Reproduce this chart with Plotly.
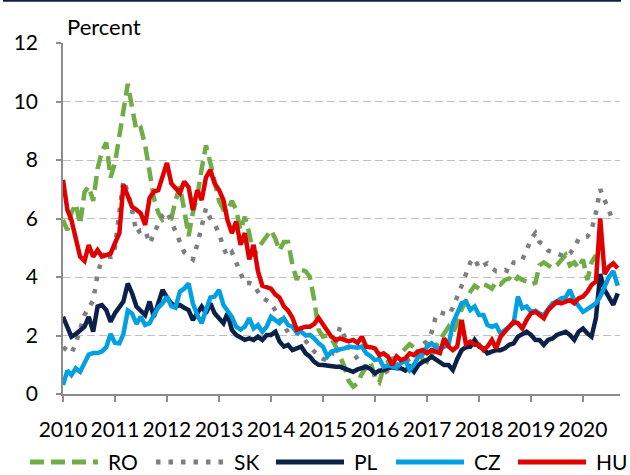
import pandas as pd
import plotly.graph_objects as go

# Monthly readings, percent, starting January 2010
ro = [5.95, 5.6, 6.2, 6.5, 5.8, 6.9, 7.1, 6.6, 7.7, 8.3, 8.6, 7.4,
      7.9, 8.8, 9.7, 10.6, 9.8, 9.0, 9.1, 8.5, 7.6, 6.7, 6.2, 5.95,
      6.0, 6.0, 6.6, 7.1, 6.3, 5.4, 6.2, 6.75, 7.7, 8.5, 7.9, 7.2,
      6.6, 6.3, 6.3, 6.6, 6.3, 5.6, 6.06, 5.5, 4.7, 4.98, 5.2, 5.4,
      5.6, 5.3, 4.9, 5.2, 5.2, 4.4, 3.9, 4.24, 4.2, 4.0, 3.2, 2.2,
      1.96, 2.0, 1.9, 1.62, 1.3, 0.93, 0.45, 0.25, 0.36, 0.7, 0.9, 1.1,
      0.55, 0.4, 0.9, 1.1, 1.2, 1.25, 1.4, 1.55, 1.7, 1.6, 1.4, 1.2,
      1.1, 1.3, 1.62, 1.85, 2.07, 2.3, 2.1, 2.4, 2.9, 3.2, 3.5, 3.7,
      3.6, 3.75, 3.7, 3.6, 3.84, 3.75, 3.9, 3.95, 3.8, 4.0, 3.9, 3.85,
      3.75, 3.8, 4.4, 4.5, 4.4, 4.3, 4.4, 4.6, 4.75, 4.4, 4.5, 4.3,
      4.6, 3.9, 4.5, 4.75]

sk = [1.6, 1.5, 1.39, 1.73, 2.2, 2.7, 2.95, 3.2, 4.1, 4.6, 4.9, 4.65,
      5.0, 6.1, 7.3, 6.9, 6.3, 5.5, 5.6, 5.6, 5.15, 5.44, 5.83, 6.1,
      6.23, 5.9, 5.6, 5.2, 4.85, 4.7, 4.6, 5.1, 5.8, 6.35, 6.0, 5.8,
      5.5, 5.0, 4.7, 4.85, 4.5, 4.1, 3.78, 3.8, 3.75, 3.5, 3.3, 3.2,
      3.1, 2.85, 2.6, 2.35, 2.1, 2.15, 2.1, 2.0, 1.8, 1.6, 1.45, 1.3,
      1.2, 1.15, 1.3, 1.8, 2.3, 1.96, 1.6, 1.4, 1.2, 1.0, 0.9, 0.8,
      0.7, 0.65, 0.7, 0.8, 0.95, 1.0, 1.05, 1.1, 1.2, 1.3, 1.5, 1.7,
      1.8, 2.1, 2.6, 2.8, 2.75, 2.7, 2.95, 3.3, 3.7, 4.1, 4.5, 4.64,
      4.3, 4.4, 4.47, 4.3, 4.2, 4.2, 4.24, 4.18, 4.5, 4.5, 4.6, 4.9,
      5.3, 5.5, 5.2, 5.1, 4.9, 4.85, 4.8, 4.75, 4.7, 4.8, 5.0, 5.3,
      5.36, 5.38, 5.6, 6.2, 7.0, 6.6, 6.3, 5.9]

pl = [2.64, 2.3, 1.96, 2.05, 2.15, 2.3, 2.64, 2.13, 2.99, 3.04, 2.87, 2.47,
      2.76, 2.99, 3.16, 3.78, 3.44, 2.99, 2.87, 2.7, 3.16, 2.64, 3.1, 3.56,
      3.3, 3.1, 2.99, 3.04, 2.95, 2.87, 2.53, 2.75, 2.99, 2.76, 3.1, 2.76,
      2.6, 2.42, 2.76, 2.19, 2.02, 1.95, 1.85, 1.9, 1.85, 1.96, 1.85, 2.02,
      2.02, 2.13, 1.8, 1.62, 1.68, 1.5, 1.55, 1.62, 1.39, 1.28, 1.1, 1.0,
      0.99, 0.96, 0.93, 0.93, 0.93, 0.88, 0.8, 0.76, 0.84, 0.88, 0.93, 0.85,
      0.71, 0.8, 0.82, 0.88, 0.91, 0.88, 0.88, 0.8, 0.93, 0.76, 0.99, 1.1,
      1.16, 1.28, 1.19, 1.05, 0.99, 0.99, 0.82, 1.2, 1.5, 1.6, 1.62, 1.85,
      1.62, 1.56, 1.39, 1.45, 1.5, 1.5, 1.56, 1.68, 1.73, 1.96, 2.07, 2.13,
      2.02, 1.85, 1.85, 1.68, 1.85, 1.9, 2.02, 2.07, 2.13, 2.02, 1.85, 2.13,
      2.24, 2.07, 1.96, 2.6, 4.1, 3.56, 3.33, 3.05, 3.44]

cz = [0.31, 0.8, 0.65, 0.88, 0.76, 1.1, 1.35, 1.4, 1.4, 1.45, 1.6, 2.05,
      1.75, 1.73, 2.05, 2.85, 2.75, 2.4, 2.64, 2.36, 2.42, 2.7, 2.95, 3.1,
      3.33, 3.0, 2.95, 3.5, 3.6, 3.78, 3.1, 2.7, 2.42, 2.87, 3.3, 3.33,
      3.56, 3.04, 2.87, 2.64, 2.3, 2.2, 2.3, 2.59, 2.24, 2.36, 2.13, 2.3,
      2.64, 2.53, 2.42, 2.59, 2.36, 2.3, 2.1, 2.13, 2.0, 2.02, 1.9, 1.73,
      1.62, 1.28, 1.45, 1.5, 1.52, 1.56, 1.62, 1.6, 1.58, 1.62, 1.39, 1.3,
      1.16, 1.2, 0.93, 0.98, 0.95, 0.9, 1.05, 1.16, 0.82, 1.0, 1.28, 1.35,
      1.62, 1.73, 1.62, 1.55, 1.62, 1.68, 2.42, 2.76, 3.1, 3.16, 2.87, 2.99,
      2.7, 2.7, 2.36, 2.3, 2.35, 2.07, 2.19, 2.3, 2.42, 3.33, 2.93, 2.99,
      2.81, 2.85, 2.75, 2.7, 2.87, 3.1, 3.16, 3.27, 3.3, 3.56, 3.2, 2.99,
      2.81, 2.9, 2.99, 3.1, 3.33, 3.67, 4.0, 4.2, 3.7]

hu = [7.32, 6.29, 5.95, 5.3, 4.7, 4.55, 5.09, 4.69, 4.92, 4.7, 4.75, 4.8,
      5.16, 5.5, 7.15, 6.74, 6.4, 6.3, 6.18, 5.78, 6.7, 6.92, 6.97, 7.43,
      7.9, 7.2, 7.04, 6.87, 7.26, 7.07, 6.29, 6.97, 6.63, 7.4, 7.66, 7.2,
      6.97, 6.63, 5.95, 5.5, 5.9, 5.1, 5.5, 4.6, 5.1, 4.2, 3.7, 3.65,
      3.6, 3.4, 3.3, 3.0, 2.85, 2.6, 2.2, 2.25, 2.3, 2.3, 2.4, 2.6,
      2.4, 2.2, 1.96, 1.85, 1.9, 1.85, 1.8, 1.85, 1.75, 1.96, 1.62, 1.6,
      1.56, 1.33, 1.39, 1.28, 0.99, 1.28, 1.16, 1.22, 1.39, 1.33, 1.45, 1.5,
      1.39, 1.5, 1.45, 1.4, 1.9, 1.62, 1.5, 1.62, 2.53, 1.7, 1.79, 1.68,
      1.68, 1.5, 1.62, 1.85, 1.56, 1.96, 2.13, 2.3, 2.47, 2.42, 2.24, 2.53,
      2.76, 2.81, 2.7, 2.59, 2.87, 3.04, 3.16, 3.1, 3.15, 3.21, 3.1, 3.27,
      3.33, 3.5, 3.73, 3.85, 6.0, 4.1, 4.35, 4.47, 4.3]

year_ticks = [str(y) for y in range(2010, 2021)]
y_ticks = [0, 2, 4, 6, 8, 10, 12]

# name, values, colour, dash pattern
series = [
    ("RO", ro, "#70AD47", "14px,7px"),
    ("SK", sk, "#7F7F7F", "4.5px,8px"),
    ("PL", pl, "#0B2149", "solid"),
    ("CZ", cz, "#00A0E2", "solid"),
    ("HU", hu, "#E00000", "solid"),
]
LINE_W = 4.5

FONT = "Lato, 'Open Sans', sans-serif"
W, H = 630, 475
ML, MR, MT, MB = 63, 10, 43, 81
PW, PH = W - ML - MR, H - MT - MB


def px_x(px):
    """pixel column -> paper x"""
    return (px - ML) / PW


def px_y(py):
    """pixel row -> paper y"""
    return (H - MB - py) / PH


fig = go.Figure()
for name, vals, color, dash in series:
    dates = pd.date_range("2010-01-01", periods=len(vals), freq="MS")
    fig.add_trace(go.Scatter(
        x=dates, y=vals, name=name, mode="lines",
        line=dict(color=color, width=LINE_W, dash=dash),
        showlegend=False,
    ))

# Legend row drawn below the axis: sample line + label per series
legend_y = px_y(462)
sample_left = [30, 156, 276, 396, 518]
sample_len = 68
shapes = []
annotations = []
for (name, _, color, dash), x0 in zip(series, sample_left):
    shapes.append(dict(
        type="line", xref="paper", yref="paper",
        x0=px_x(x0), x1=px_x(x0 + sample_len), y0=legend_y, y1=legend_y,
        line=dict(color=color, width=LINE_W + 0.5, dash=dash),
    ))
    annotations.append(dict(
        text=name, xref="paper", yref="paper",
        x=px_x(x0 + sample_len + 8), y=legend_y,
        xanchor="left", yanchor="middle", showarrow=False,
        font=dict(family=FONT, size=21, color="#000000"),
    ))

annotations.append(dict(
    text="Percent", xref="paper", yref="paper",
    x=px_x(65), y=px_y(26.5), xanchor="left", yanchor="middle",
    showarrow=False, font=dict(family=FONT, size=22, color="#000000"),
))

# thin navy rule along the top edge
shapes.append(dict(
    type="line", xref="paper", yref="paper",
    x0=px_x(3), x1=px_x(621), y0=px_y(0.8), y1=px_y(0.8),
    line=dict(color="#0B2149", width=2),
))

fig.update_layout(
    width=W, height=H,
    margin=dict(l=ML, r=MR, t=MT, b=MB),
    paper_bgcolor="white", plot_bgcolor="white",
    font=dict(family=FONT, size=21, color="#000000"),
    showlegend=False,
    xaxis=dict(
        type="date",
        range=["2010-01-01", "2020-09-17"],
        tickvals=[f"{y}-01-01" for y in year_ticks],
        ticktext=year_ticks,
        ticks="outside", ticklen=6, tickwidth=1.5, tickcolor="#8C8C8C",
        showline=True, linecolor="#8C8C8C", linewidth=1.5,
        showgrid=False, zeroline=False,
        ticklabelstandoff=10,
        tickfont=dict(family=FONT, size=21, color="#000000"),
    ),
    yaxis=dict(
        range=[0, 12],
        tickvals=y_ticks,
        ticks="outside", ticklen=5, tickwidth=1.5, tickcolor="#8C8C8C",
        showline=True, linecolor="#8C8C8C", linewidth=1.5,
        showgrid=True, gridcolor="#BFBFBF", gridwidth=1.3, griddash="8px,4px",
        zeroline=False,
        ticklabelstandoff=14,
        tickfont=dict(family=FONT, size=21, color="#000000"),
    ),
    annotations=annotations,
    shapes=shapes,
)

fig.write_html("out.html")
